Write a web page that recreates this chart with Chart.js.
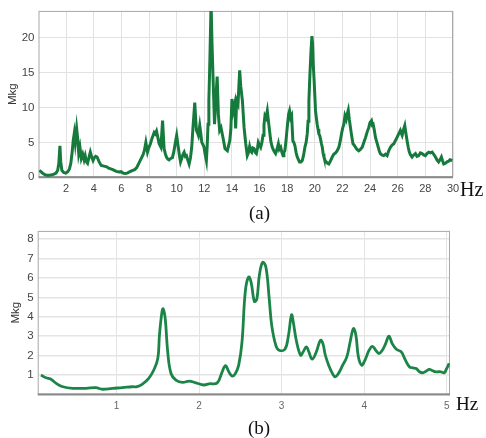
<!DOCTYPE html>
<html>
<head>
<meta charset="utf-8">
<script src="https://cdn.jsdelivr.net/npm/chart.js@4.4.1/dist/chart.umd.min.js"></script>
<style>
  html, body { margin: 0; padding: 0; background: #fff; }
  body { width: 486px; height: 438px; position: relative; overflow: hidden; }
  .plot { position: absolute; left: 0; width: 486px; height: 200px; }
  #wrapA { top: 0; }
  #wrapB { top: 220px; }
  .lbl { position: absolute; font-family: "Liberation Serif", "Times New Roman", serif; color: #111; white-space: nowrap; line-height: 1; }
</style>
</head>
<body>
<div id="wrapA" class="plot"><canvas id="chartA" width="486" height="200"></canvas></div>
<div id="wrapB" class="plot"><canvas id="chartB" width="486" height="200"></canvas></div>
<div class="lbl" style="left:460px; top:179px; font-size:20px;">Hz</div>
<div class="lbl" style="left:249px; top:203px; font-size:19px;">(a)</div>
<div class="lbl" style="left:456px; top:394px; font-size:19px;">Hz</div>
<div class="lbl" style="left:248px; top:418px; font-size:19px;">(b)</div>
<script>
// (a) spectrum 0-30 Hz
const freqA = [0.06, 0.18, 0.28, 0.43, 0.58, 0.78, 0.98, 1.12, 1.27, 1.39, 1.47, 1.55, 1.61, 1.69, 1.82, 1.97,
  2.12, 2.24, 2.34, 2.43, 2.51, 2.59, 2.66, 2.76, 2.84, 2.91, 3.0, 3.1, 3.2, 3.3, 3.38, 3.47, 3.55, 3.65, 3.75, 3.85, 3.95,
  4.04, 4.14, 4.24, 4.39, 4.54, 4.74, 4.94, 5.08, 5.23, 5.38, 5.48, 5.63, 5.83, 5.97, 6.12, 6.27, 6.42, 6.62, 6.82, 6.96,
  7.11, 7.26, 7.41, 7.56, 7.66, 7.77, 7.89, 7.98, 8.1, 8.22, 8.37, 8.45, 8.54, 8.65, 8.73, 8.86, 8.98, 9.09, 9.19, 9.26,
  9.36, 9.45, 9.57, 9.69, 9.79, 9.89, 10.0, 10.13, 10.21, 10.28, 10.38, 10.46, 10.54, 10.63, 10.71, 10.8, 10.9, 11.0,
  11.09, 11.18, 11.31, 11.37, 11.43, 11.5, 11.57, 11.67, 11.75, 11.82, 11.92, 11.98, 12.06, 12.15, 12.21, 12.27, 12.33,
  12.39, 12.46, 12.49, 12.56, 12.64, 12.74, 12.83, 12.93, 13.02, 13.11, 13.21, 13.35, 13.5, 13.67, 13.84, 13.92, 14.0,
  14.09, 14.2, 14.27, 14.34, 14.44, 14.56, 14.64, 14.76, 14.88, 15.0, 15.11, 15.19, 15.28, 15.35, 15.43, 15.51, 15.6,
  15.68, 15.77, 15.85, 15.91, 16.0, 16.08, 16.17, 16.25, 16.32, 16.39, 16.47, 16.56, 16.68, 16.81, 16.89, 16.96, 17.06,
  17.16, 17.26, 17.36, 17.43, 17.53, 17.61, 17.7, 17.76, 17.83, 17.9, 18.0, 18.1, 18.17, 18.25, 18.32, 18.41, 18.48,
  18.56, 18.65, 18.73, 18.82, 18.89, 18.99, 19.09, 19.19, 19.28, 19.37, 19.45, 19.51, 19.57, 19.64, 19.72, 19.79, 19.84,
  19.89, 19.95, 20.05, 20.11, 20.17, 20.23, 20.29, 20.35, 20.41, 20.48, 20.54, 20.6, 20.66, 20.74, 20.82, 20.92, 21.01,
  21.12, 21.26, 21.37, 21.5, 21.62, 21.74, 21.84, 21.93, 22.01, 22.1, 22.18, 22.27, 22.34, 22.42, 22.5, 22.58, 22.66,
  22.76, 22.85, 22.94, 23.05, 23.18, 23.3, 23.43, 23.55, 23.67, 23.79, 23.9, 23.99, 24.1, 24.16, 24.22, 24.3, 24.39,
  24.49, 24.59, 24.66, 24.74, 24.85, 24.99, 25.11, 25.23, 25.35, 25.47, 25.59, 25.72, 25.82, 25.95, 26.07, 26.19, 26.26,
  26.32, 26.42, 26.51, 26.6, 26.68, 26.76, 26.84, 26.93, 27.04, 27.16, 27.28, 27.39, 27.52, 27.64, 27.76, 27.88, 28.0,
  28.12, 28.24, 28.36, 28.49, 28.6, 28.73, 28.84, 28.96, 29.06, 29.16, 29.24, 29.33, 29.45, 29.57, 29.69, 29.78, 29.95];
const ampA = [1.0, 0.8, 0.6, 0.4, 0.3, 0.3, 0.35, 0.45, 0.6, 1.0, 2.0, 4.5, 2.2, 1.0, 0.7, 0.6,
  0.8, 1.2, 2.0, 3.5, 5.2, 6.3, 5.0, 7.0, 5.5, 3.4, 4.3, 2.7, 3.3, 2.5, 3.1, 2.2, 2.0, 2.8, 3.6, 2.9, 2.4,
  2.8, 3.0, 2.9, 2.2, 1.7, 1.6, 1.5, 1.3, 1.2, 1.1, 1.0, 0.85, 0.75, 0.8, 0.6, 0.55, 0.6, 0.8, 1.0, 1.1,
  1.4, 2.0, 2.6, 3.2, 3.8, 5.0, 3.6, 4.2, 4.8, 5.6, 6.4, 6.2, 6.6, 5.6, 4.8, 4.3, 8.1, 4.1, 3.3, 2.9,
  2.6, 2.5, 2.7, 2.8, 3.6, 4.8, 6.0, 4.1, 3.0, 2.2, 2.8, 3.3, 3.6, 3.0, 3.1, 2.5, 1.9, 2.8,
  4.3, 7.1, 10.7, 8.5, 6.7, 6.4, 6.0, 7.4, 6.2, 5.0, 4.6, 4.3, 3.3, 2.4, 4.5, 7.6, 11.0,
  15.6, 22.0, 25.0, 19.0, 13.8, 7.6, 10.9, 14.4, 9.0, 6.7, 7.1, 5.7, 4.1, 3.8, 5.2, 6.8, 11.2,
  9.5, 10.5, 7.0, 11.0, 10.5, 15.3, 13.0, 10.9, 7.1, 4.8, 3.1, 3.5, 4.4, 3.8, 3.6, 4.2, 4.1,
  3.6, 3.4, 4.2, 5.0, 4.6, 4.3, 5.0, 6.0, 7.5, 8.8, 8.5, 9.5, 7.4, 5.2, 4.5, 4.1, 3.7,
  3.4, 4.0, 4.8, 4.0, 4.3, 3.6, 3.1, 3.6, 3.8, 5.0, 7.1, 9.0, 9.5, 8.5, 8.8, 5.2, 5.0,
  4.5, 3.5, 2.9, 2.5, 2.2, 2.2, 2.4, 3.2, 4.3, 5.0, 6.2, 8.0, 10.9, 14.5, 18.0, 20.2, 19.0,
  16.0, 13.8, 9.5, 8.5, 7.6, 6.9, 6.2, 6.0, 5.5, 4.8, 4.3, 3.4, 2.9, 2.4, 2.2, 2.0, 1.9,
  2.3, 2.9, 3.3, 3.5, 3.8, 4.3, 5.2, 6.2, 7.0, 7.6, 8.8, 8.3, 9.0, 9.6, 8.2, 7.1, 6.0,
  4.8, 4.6, 4.3, 4.0, 3.8, 4.0, 4.3, 5.0, 5.7, 6.5, 7.1, 7.8, 8.1, 7.5, 7.6, 6.8, 5.7,
  5.0, 4.3, 3.8, 3.4, 3.2, 3.1, 3.3, 3.1, 3.8, 4.3, 4.6, 4.8, 5.2, 5.7, 6.2, 6.7, 6.3,
  6.0, 6.8, 7.4, 6.2, 5.2, 4.3, 3.6, 3.2, 2.9, 3.2, 3.4, 3.0, 3.1, 3.5, 3.4, 3.2, 3.1,
  3.4, 3.6, 3.5, 3.6, 3.3, 2.9, 2.5, 2.2, 2.5, 2.9, 2.4, 1.9, 2.0, 2.2, 2.3, 2.5, 2.4];
const xTicksA = [2, 4, 6, 8, 10, 12, 14, 16, 18, 20, 22, 24, 26, 28, 30];
const yTicksA = [0, 5, 10, 15, 20];

// (b) spectrum 0-5 Hz
const freqB = [0.085, 0.145, 0.2, 0.27, 0.35, 0.47, 0.63, 0.75, 0.83, 0.95, 1.07, 1.19, 1.25, 1.31, 1.39, 1.45,
  1.5, 1.52, 1.55, 1.565, 1.59, 1.62, 1.66, 1.72, 1.8, 1.88, 1.96, 2.06, 2.12, 2.22, 2.28, 2.32, 2.36, 2.4, 2.44,
  2.48, 2.52, 2.56, 2.6, 2.63, 2.67, 2.7, 2.73, 2.77, 2.81, 2.85, 2.88, 2.93, 2.97, 3.04, 3.08, 3.12, 3.14, 3.18,
  3.23, 3.26, 3.3, 3.33, 3.37, 3.42, 3.47, 3.5, 3.53, 3.57, 3.62, 3.65, 3.69, 3.74, 3.79, 3.83, 3.87, 3.9, 3.93,
  3.97, 4.01, 4.06, 4.1, 4.14, 4.18, 4.22, 4.26, 4.3, 4.34, 4.39, 4.45, 4.5, 4.55, 4.59, 4.63, 4.67, 4.71, 4.75,
  4.79, 4.83, 4.87, 4.93, 4.97, 5.0, 5.03];
const ampB = [1.0, 0.86, 0.8, 0.57, 0.4, 0.32, 0.32, 0.35, 0.27, 0.32, 0.35, 0.4, 0.4, 0.52, 0.83, 1.25,
  1.85, 3.05, 4.24, 4.41, 3.9, 2.2, 1.08, 0.74, 0.62, 0.69, 0.6, 0.49, 0.55, 0.6, 1.17, 1.48, 1.17, 0.95, 1.08,
  1.51, 2.7, 5.3, 6.05, 5.78, 4.79, 4.92, 6.12, 6.8, 6.55, 4.92, 3.56, 2.53, 2.28, 2.33, 2.96, 4.1, 3.76, 2.74,
  2.02, 2.19, 2.45, 2.19, 1.82, 2.19, 2.79, 2.62, 2.02, 1.51, 1.05, 0.91, 1.09, 1.51, 1.94, 2.7, 3.39, 3.05, 1.94,
  1.51, 1.77, 2.28, 2.48, 2.28, 2.11, 2.28, 2.62, 3.0, 2.62, 2.33, 2.19, 1.77, 1.42, 1.37, 1.34, 1.17, 1.12, 1.2,
  1.29, 1.22, 1.17, 1.17, 1.12, 1.34, 1.6];
const xTicksB = [1, 2, 3, 4, 5];
const yTicksB = [1, 2, 3, 4, 5, 6, 7, 8];

const sansFont = "'Liberation Sans', Arial, sans-serif";

// draws the grey box round the plot area
const framePlugin = {
  id: "frame",
  beforeDatasetsDraw(chart) {
    const { ctx, chartArea: a } = chart;
    ctx.save();
    ctx.strokeStyle = "#a8a8a8";
    ctx.lineWidth = 1;
    ctx.strokeRect(a.left + 0.5, a.top + 0.5, a.right - a.left - 1, a.bottom - a.top - 1);
    ctx.strokeStyle = "#8a8a8a";
    ctx.lineWidth = 2;
    ctx.beginPath();
    ctx.moveTo(a.left, a.bottom);
    ctx.lineTo(a.right, a.bottom);
    ctx.stroke();
    ctx.restore();
  },
};

function makeChart(canvasId, freqs, amps, opts) {
  const points = freqs.map((f, i) => ({ x: f, y: amps[i] }));
  return new Chart(document.getElementById(canvasId), {
    type: "line",
    data: {
      datasets: [
        {
          data: points,
          borderColor: opts.color,
          borderWidth: opts.lineWidth,
          pointRadius: 0,
          tension: opts.tension,
          fill: false,
        },
      ],
    },
    options: {
      responsive: false,
      animation: false,
      events: [],
      layout: { padding: opts.padding },
      plugins: { legend: { display: false }, tooltip: { enabled: false } },
      scales: {
        x: {
          type: "linear",
          min: opts.xMin,
          max: opts.xMax,
          afterBuildTicks: (s) => { s.ticks = opts.xTicks.map((v) => ({ value: v })); },
          afterFit: (s) => { s.height = opts.xHeight; },
          ticks: {
            autoSkip: false,
            maxRotation: 0,
            padding: opts.xPad,
            color: opts.xColor,
            font: { family: sansFont, size: opts.xFont },
          },
          grid: { color: opts.gridColor, lineWidth: 1, drawTicks: false },
          border: { display: false },
        },
        y: {
          min: 0,
          max: opts.yMax,
          afterBuildTicks: (s) => { s.ticks = opts.yTicks.map((v) => ({ value: v })); },
          afterFit: (s) => { s.width = opts.yWidth; },
          ticks: {
            padding: 4,
            color: "#444",
            font: { family: sansFont, size: opts.yFont },
          },
          title: {
            display: true,
            text: "Mkg",
            color: "#333",
            padding: { top: opts.titlePad, bottom: 0 },
            font: { family: sansFont, size: 11.5 },
          },
          grid: { color: opts.gridColor, lineWidth: opts.hGridWidth, drawTicks: false },
          border: { display: false },
        },
      },
    },
    plugins: [framePlugin],
  });
}

makeChart("chartA", freqA, ampA, {
  color: "#167a3d",
  lineWidth: 3,
  tension: 0,
  xMin: 0,
  xMax: 30,
  yMax: 23.8,
  xTicks: xTicksA,
  yTicks: yTicksA,
  padding: { left: 0, right: 33, top: 8, bottom: 0 },
  xHeight: 22.7,
  yWidth: 38.5,
  xPad: 5,
  xFont: 11,
  xColor: "#444",
  yFont: 11.5,
  titlePad: 6,
  gridColor: "#e2e2e2",
  hGridWidth: 1,
});

makeChart("chartB", freqB, ampB, {
  color: "#1b8447",
  lineWidth: 2.8,
  tension: 0.4,
  xMin: 0.045,
  xMax: 5.04,
  yMax: 8.42,
  xTicks: xTicksB,
  yTicks: yTicksB,
  padding: { left: 0, right: 36, top: 10, bottom: 0 },
  xHeight: 25.5,
  yWidth: 37.7,
  xPad: 6,
  xFont: 10,
  xColor: "#666",
  yFont: 11.5,
  titlePad: 9,
  gridColor: "#e4e4e4",
  hGridWidth: 1.5,
});
</script>
</body>
</html>
